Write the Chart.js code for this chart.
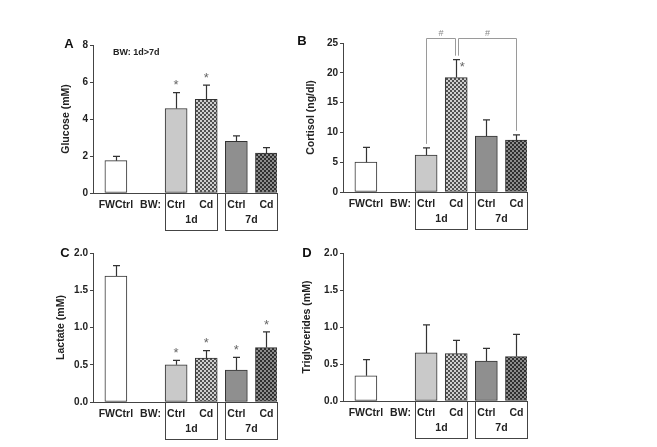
<!DOCTYPE html>
<html>
<head>
<meta charset="utf-8">
<script src="https://cdn.jsdelivr.net/npm/chart.js@4.4.1/dist/chart.umd.min.js"></script>
<style>
  html, body { margin: 0; padding: 0; background: #fff; overflow: hidden; }
  body { width: 657px; height: 447px; position: relative; }
  canvas { position: absolute; }
</style>
</head>
<body>
<canvas id="chartA" width="300" height="240" style="left:0;top:0"></canvas>
<canvas id="chartB" width="300" height="240" style="left:250px;top:0"></canvas>
<canvas id="chartC" width="300" height="237" style="left:0;top:210px"></canvas>
<canvas id="chartD" width="300" height="237" style="left:250px;top:210px"></canvas>
<script>
(() => {
  /* ---------------- DATA ---------------- */
  const xLabels = ["FWCtrl", "BW:", "Ctrl", "Cd", "Ctrl", "Cd"];
  const barSlots = [0, 2, 3, 4, 5];
  const groupLabels = ["1d", "7d"];
  const groupSlots = [[2, 3], [4, 5]];

  const glucose = [1.75, 4.57, 5.07, 2.79, 2.16];
  const glucoseErr = [0.23, 0.86, 0.76, 0.30, 0.29];
  const glucoseStars = [false, true, true, false, false];
  const glucoseTicks = [0, 2, 4, 6, 8];

  const cortisol = [5.0, 6.2, 19.2, 9.4, 8.7];
  const cortisolErr = [2.5, 1.2, 3.0, 2.7, 0.9];
  const cortisolStars = [false, false, true, false, false];
  const cortisolTicks = [0, 5, 10, 15, 20, 25];
  const cortisolBrackets = [[1, 2], [2, 4]];

  const lactate = [1.69, 0.50, 0.59, 0.43, 0.73];
  const lactateErr = [0.14, 0.06, 0.10, 0.17, 0.21];
  const lactateStars = [false, true, true, true, true];
  const lactateTicks = [0, 0.5, 1.0, 1.5, 2.0];

  const triglycerides = [0.34, 0.65, 0.64, 0.54, 0.60];
  const triglyceridesErr = [0.22, 0.38, 0.18, 0.17, 0.30];
  const triglyceridesStars = [false, false, false, false, false];
  const triglyceridesTicks = [0, 0.5, 1.0, 1.5, 2.0];

  const FONT = "'Liberation Sans', Arial, sans-serif";
  const INK = "#222";
  const BAR_W = 22;

  Chart.defaults.font.family = FONT;

  /* ---------------- FILLS ---------------- */
  function checker(bg, dot) {
    const c = document.createElement("canvas");
    c.width = 4; c.height = 4;
    const g = c.getContext("2d");
    g.fillStyle = bg; g.fillRect(0, 0, 4, 4);
    g.fillStyle = dot;
    g.fillRect(0, 0, 2, 2);
    g.fillRect(2, 2, 2, 2);
    return g.createPattern(c, "repeat");
  }

  const fills = [
    "#ffffff",
    "#c9c9c9",
    checker("#505050", "#cfcfcf"),
    "#8f8f8f",
    checker("#2f2f2f", "#8c8c8c")
  ];

  /* ---------------- EXTRAS PLUGIN ---------------- */
  const extras = {
    id: "extras",
    afterDraw(chart, args, o) {
      const { ctx, chartArea } = chart;
      const x = chart.scales.x, y = chart.scales.y;
      const px = i => x.getPixelForValue(barSlots[i]);
      const top = i => y.getPixelForValue(o.values[i] + o.errors[i]);
      ctx.save();

      // error bars
      ctx.strokeStyle = "#333";
      ctx.lineWidth = 1.2;
      o.values.forEach((v, i) => {
        const cx = Math.round(px(i)) + 0.5;
        const y0 = y.getPixelForValue(v), y1 = top(i);
        ctx.beginPath();
        ctx.moveTo(cx, y0); ctx.lineTo(cx, y1);
        ctx.moveTo(cx - 3.5, y1); ctx.lineTo(cx + 3.5, y1);
        ctx.stroke();
      });

      // significance stars
      ctx.fillStyle = "#666";
      ctx.font = "13px " + FONT;
      ctx.textAlign = "center";
      ctx.textBaseline = "middle";
      o.stars.forEach((s, i) => {
        if (!s) return;
        ctx.fillText("*", px(i) + o.starDx, top(i) + o.starDy);
      });

      // brackets (#)
      if (o.brackets) {
        ctx.strokeStyle = "#9a9a9a";
        ctx.lineWidth = 1;
        const by = Math.round(chartArea.top - 5) + 0.5;
        o.brackets.forEach(([a, b], k) => {
          const xa = Math.round(px(a) + (k === 1 ? 1.5 : 0)) + 0.5;
          const xb = Math.round(px(b) - (k === 0 ? 1.5 : 0)) + 0.5;
          ctx.beginPath();
          ctx.moveTo(xa, top(a) - 4); ctx.lineTo(xa, by);
          ctx.lineTo(xb, by); ctx.lineTo(xb, top(b) - 4);
          ctx.stroke();
          ctx.fillStyle = "#888";
          ctx.font = "9px " + FONT;
          ctx.fillText("#", (xa + xb) / 2, by - 5);
        });
      }

      // group boxes under the axis
      ctx.strokeStyle = "#444";
      ctx.lineWidth = 1;
      ctx.fillStyle = INK;
      ctx.font = "bold 10.5px " + FONT;
      groupSlots.forEach(([a, b], g) => {
        const l = Math.round(x.getPixelForValue(a) - BAR_W / 2) + 0.5;
        const r = Math.round(x.getPixelForValue(b) + BAR_W / 2) + 0.5;
        const t = Math.round(x.top) + 0.5;
        ctx.strokeRect(l, t, r - l, 37);
        ctx.fillText(groupLabels[g], (l + r) / 2, t + 27);
      });

      // note
      if (o.note) {
        ctx.textAlign = "left";
        ctx.font = "bold 9px " + FONT;
        ctx.fillText(o.note, chartArea.left + 20, chartArea.top + 8);
      }

      // panel letter
      ctx.textAlign = "center";
      ctx.font = "bold 13px " + FONT;
      ctx.fillStyle = "#111";
      ctx.fillText(o.letter, chartArea.left - o.letterDx, chartArea.top + o.letterDy);
      ctx.restore();
    }
  };

  /* ---------------- PANELS ---------------- */
  function makePanel(id, p) {
    const canvas = document.getElementById(id);
    return new Chart(canvas, {
      type: "bar",
      data: {
        datasets: [{
          data: barSlots.map((s, i) => ({ x: s, y: p.values[i] })),
          backgroundColor: fills,
          borderColor: "#333",
          borderWidth: 1,
          borderSkipped: false,
          barThickness: BAR_W
        }]
      },
      options: {
        responsive: false,
        animation: false,
        devicePixelRatio: 1,
        layout: { padding: { left: p.padLeft, top: p.padTop, right: 23, bottom: canvas.height - p.bottom - 40 } },
        plugins: {
          legend: { display: false },
          tooltip: { enabled: false },
          extras: {
            values: p.values, errors: p.errors, stars: p.stars,
            starDx: p.starDx || 0, starDy: p.starDy || -7,
            brackets: p.brackets, note: p.note,
            letter: p.letter, letterDx: p.letterDx, letterDy: p.letterDy
          }
        },
        scales: {
          x: {
            type: "linear",
            min: -0.76,
            max: 5.35,
            offset: false,
            afterBuildTicks: s => { s.ticks = [0, 1.15, 2, 3, 4, 5].map(v => ({ value: v })); },
            afterFit: s => { s.height = 40; },
            grid: { display: false, drawTicks: false, offset: false },
            border: { color: "#444", width: 1 },
            ticks: {
              autoSkip: false, maxRotation: 0, padding: 6, color: INK,
              font: { size: 10.5, weight: "bold" },
              callback: (v, i) => xLabels[i]
            }
          },
          y: {
            min: 0,
            max: p.ticks[p.ticks.length - 1],
            afterBuildTicks: s => { s.ticks = p.ticks.map(v => ({ value: v })); },
            afterFit: s => { s.width = 93 - p.padLeft; },
            grid: { drawOnChartArea: false, tickLength: 3, tickColor: "#444" },
            border: { color: "#444", width: 1 },
            ticks: {
              padding: 2, color: INK,
              font: { size: 10, weight: "bold" },
              callback: v => v.toFixed(p.decimals)
            },
            title: {
              display: true, text: p.title, color: INK,
              font: { size: 10.5, weight: "bold" },
              padding: { top: 4, bottom: 0 }
            }
          }
        }
      },
      plugins: [extras]
    });
  }

  makePanel("chartA", {
    values: glucose, errors: glucoseErr, stars: glucoseStars, ticks: glucoseTicks, decimals: 0,
    title: "Glucose (mM)", letter: "A", note: "BW: 1d>7d",
    padLeft: 56, padTop: 45, bottom: 193, letterDx: 24, letterDy: -1
  });
  makePanel("chartB", {
    values: cortisol, errors: cortisolErr, stars: cortisolStars, ticks: cortisolTicks, decimals: 0,
    title: "Cortisol (ng/dl)", letter: "B", brackets: cortisolBrackets, starDx: 6, starDy: 8,
    padLeft: 51, padTop: 43, bottom: 192, letterDx: 41, letterDy: -2
  });
  makePanel("chartC", {
    values: lactate, errors: lactateErr, stars: lactateStars, ticks: lactateTicks, decimals: 1,
    title: "Lactate (mM)", letter: "C",
    padLeft: 51, padTop: 43, bottom: 192, letterDx: 28, letterDy: 0
  });
  makePanel("chartD", {
    values: triglycerides, errors: triglyceridesErr, stars: triglyceridesStars, ticks: triglyceridesTicks, decimals: 1,
    title: "Triglycerides (mM)", letter: "D",
    padLeft: 47, padTop: 43, bottom: 191, letterDx: 36, letterDy: 0
  });
})();
</script>
</body>
</html>
